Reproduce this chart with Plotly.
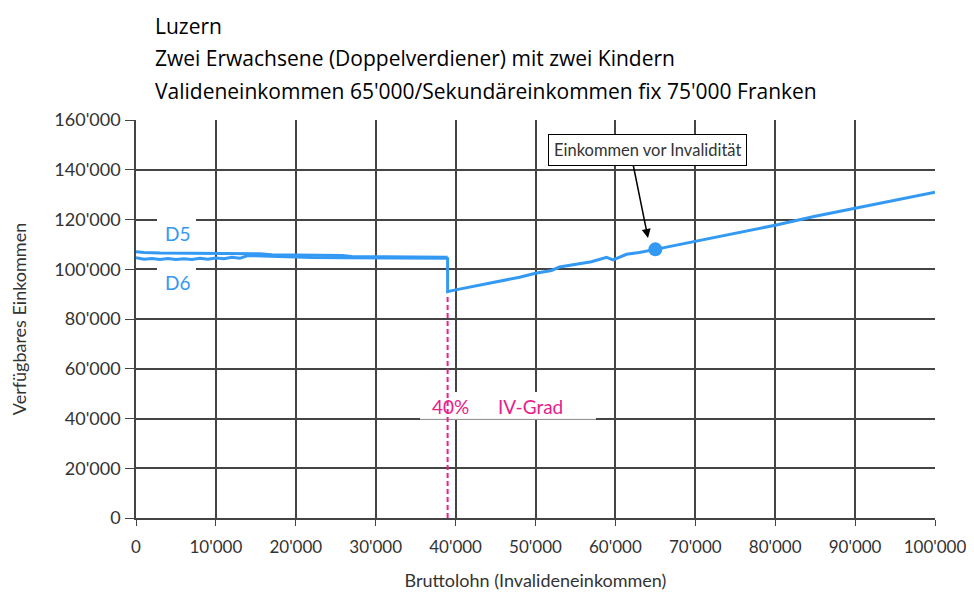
import plotly.graph_objects as go

# Data
x_d5 = [0, 1000, 3000, 6000, 10000, 13000, 15500, 17000, 20000, 23000, 25800, 27000, 30000, 33000, 36000, 38500, 39000]
y_d5 = [107000, 106700, 106500, 106400, 106400, 106300, 106200, 105800, 105700, 105600, 105500, 105100, 105000, 105000, 104900, 104800, 104800]
x_d6 = [0, 1000, 2000, 3000, 4000, 5000, 6000, 7000, 8000, 9000, 10000, 11000, 12000, 13000, 14000, 16000, 18000, 22000, 26000, 30000, 33000, 35000, 37000, 39000]
y_d6 = [104600, 104000, 104300, 103900, 104300, 103900, 104200, 103900, 104400, 104000, 104500, 104200, 104800, 104400, 105500, 105300, 104800, 104700, 104600, 104500, 104300, 104500, 104300, 104400]
x_common = [39000, 39000, 40000, 42000, 44000, 46000, 48000, 50000, 52000, 53000, 55000, 57000, 58900, 59700, 61400, 63000, 65000, 70000, 75000, 80000, 85000, 90000, 95000, 100000]
y_common = [104800, 91000, 91700, 93000, 94000, 95400, 96800, 98400, 99500, 100900, 101800, 103000, 104800, 103800, 106000, 106700, 108000, 111200, 114500, 117700, 121300, 124500, 127800, 131000]
point_x = [65000]
point_y = [108000]
x_ticks = list(range(0, 100001, 10000))
y_ticks = list(range(0, 160001, 20000))
x_ticktext = ["0", "10'000", "20'000", "30'000", "40'000", "50'000", "60'000", "70'000", "80'000", "90'000", "100'000"]
y_ticktext = ["0", "20'000", "40'000", "60'000", "80'000", "100'000", "120'000", "140'000", "160'000"]
iv_grad_x = 39000
iv_grad_y = 90000

blue = "#3399F3"
magenta = "#E8208A"
font = "Lato"

# pixel -> data helpers (screen pixels of the plot area: x 136..935, y 518..120)
def dx(px):
    return (px - 136) / 799 * 100000

def dy(py):
    return (518 - py) / 398 * 160000

fig = go.Figure()
fig.add_trace(go.Scatter(x=x_d6, y=y_d6, mode="lines", line=dict(color=blue, width=3), name="D6"))
fig.add_trace(go.Scatter(x=x_d5, y=y_d5, mode="lines", line=dict(color=blue, width=3), name="D5"))
fig.add_trace(go.Scatter(x=x_common, y=y_common, mode="lines", line=dict(color=blue, width=3), name="common"))
fig.add_trace(go.Scatter(x=point_x, y=point_y, mode="markers", marker=dict(color=blue, size=14), name="point"))

shapes = []
shapes.append(dict(type="rect", xref="x", yref="y", x0=dx(420), x1=dx(596), y0=dy(419), y1=dy(392),
                   fillcolor="white", line=dict(width=0), layer="between"))
shapes.append(dict(type="line", xref="x", yref="y", x0=dx(420), x1=dx(596), y0=dy(419), y1=dy(419),
                   line=dict(color="#e6e6e6", width=1), layer="between"))
shapes.append(dict(type="rect", xref="x", yref="y", x0=dx(157), x1=dx(196), y0=dy(247), y1=dy(218),
                   fillcolor="white", line=dict(width=0), layer="between"))
shapes.append(dict(type="rect", xref="x", yref="y", x0=dx(157), x1=dx(196), y0=dy(296), y1=dy(266),
                   fillcolor="white", line=dict(width=0), layer="between"))
shapes.append(dict(type="line", xref="x", yref="y", x0=iv_grad_x, x1=iv_grad_x, y0=0, y1=iv_grad_y,
                   line=dict(color=magenta, width=2, dash="5px,3px"), layer="above"))

annotations = []
titles = ["Luzern", "Zwei Erwachsene (Doppelverdiener) mit zwei Kindern",
          "Valideneinkommen 65'000/Sekundäreinkommen fix 75'000 Franken"]
title_py = [26, 58, 91]
for t, py in zip(titles, title_py):
    annotations.append(dict(text=t, xref="paper", yref="paper", x=(153 - 136) / 799, y=(518 - py) / 398,
                            xanchor="left", yanchor="middle", showarrow=False,
                            font=dict(family="Open Sans", size=21, color="black")))
annotations.append(dict(text="D5", x=dx(177), y=dy(233), xref="x", yref="y", showarrow=False,
                        font=dict(family=font, size=19, color=blue)))
annotations.append(dict(text="D6", x=dx(177), y=dy(282), xref="x", yref="y", showarrow=False,
                        font=dict(family=font, size=19, color=blue)))
annotations.append(dict(text="40%", x=dx(450), y=dy(406), xref="x", yref="y",
                        showarrow=False, font=dict(family=font, size=19, color=magenta)))
annotations.append(dict(text="IV-Grad", x=dx(530), y=dy(406), xref="x", yref="y",
                        showarrow=False, font=dict(family=font, size=19, color=magenta)))
annotations.append(dict(text="Einkommen vor Invalidität", x=dx(647), y=dy(150),
                        xref="x", yref="y", showarrow=False, bgcolor="white", bordercolor="black", borderwidth=1,
                        borderpad=5, font=dict(family=font, size=16.5, color="#333333")))
annotations.append(dict(text="", x=dx(648), y=dy(238), ax=dx(633), ay=dy(164),
                        axref="x", ayref="y", xref="x", yref="y", showarrow=True,
                        arrowhead=2, arrowsize=1.2, arrowwidth=1.5, arrowcolor="black"))

fig.update_layout(
    width=974, height=594,
    margin=dict(l=128, r=47, t=112, b=84, autoexpand=False),
    paper_bgcolor="white", plot_bgcolor="white",
    showlegend=False,
    font=dict(family=font, size=17, color="#333333"),
    shapes=shapes, annotations=annotations,
    xaxis=dict(range=[0, 100000], tickvals=x_ticks, ticktext=x_ticktext, showgrid=True,
               gridcolor="#444444", gridwidth=1.5, showline=True, linecolor="#444444", linewidth=1.5,
               ticks="outside", ticklen=6, tickcolor="#444444", zeroline=False, ticklabelstandoff=7,
               title=dict(text="Bruttolohn (Invalideneinkommen)", font=dict(size=18, color="#333333"), standoff=18),
               tickfont=dict(size=17, color="#333333")),
    yaxis=dict(range=[0, 160000], tickvals=y_ticks, ticktext=y_ticktext, showgrid=True,
               gridcolor="#444444", gridwidth=1.5, showline=True, linecolor="#444444", linewidth=1.5,
               ticks="outside", ticklen=9, tickcolor="#444444", zeroline=False, ticklabelstandoff=1,
               title=dict(text="Verfügbares Einkommen", font=dict(size=18, color="#333333"), standoff=25),
               tickfont=dict(size=18, color="#333333")),
)

fig.write_html("out.html")
